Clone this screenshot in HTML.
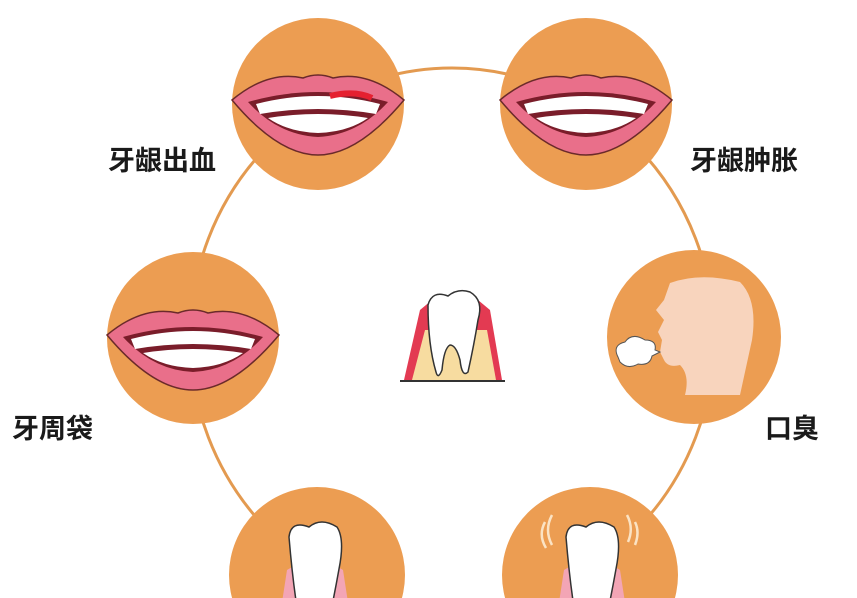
<!DOCTYPE html>
<html><head><meta charset="utf-8"><style>
html,body{margin:0;padding:0;background:#fff;width:857px;height:598px;overflow:hidden;}
svg{display:block}
text{font-family:"Liberation Sans","Noto Sans CJK SC",sans-serif;font-weight:bold;fill:#1a1a1a;font-size:27px}
</style></head><body>
<svg width="857" height="598" viewBox="0 0 857 598">
<defs>
<g id="lips">
<path d="M-86,0 Q-50,-30 -15,-22 Q0,-28 15,-22 Q50,-30 86,0 Q40,55 0,55 Q-40,55 -86,0Z" fill="#e96f8a" stroke="#6b2a2a" stroke-width="1.5"/>
<path d="M-70,2 Q0,-18 70,2 Q40,35 0,37 Q-40,35 -70,2Z" fill="#7a1d2a"/>
<path d="M-62,4 Q0,-12 62,4 L58,14 Q0,4 -58,14Z" fill="#fff"/>
<path d="M-50,18 Q0,10 50,18 Q30,32 0,33 Q-30,32 -50,18Z" fill="#fff"/>
</g>
<g id="bt">
<path d="M-38,60 L-28,-5 L-16,-12 L16,-12 L28,-5 L38,60Z" fill="#f3a5b5"/>
<path d="M-26,-38 Q-24,-55 -6,-48 Q6,-58 22,-48 Q30,-36 24,-6 Q19,22 14,45 Q10,55 7,45 Q5,28 0,28 Q-6,28 -9,47 Q-14,56 -16,45 Q-22,10 -26,-38Z" fill="#fff" stroke="#333" stroke-width="1.5"/>
</g>
</defs>
<ellipse cx="452" cy="338" rx="262" ry="270" fill="none" stroke="#e39a50" stroke-width="3"/>
<g fill="#ec9d52">
<circle cx="318" cy="104" r="86"/>
<circle cx="586" cy="104" r="86"/>
<circle cx="193" cy="338" r="86"/>
<circle cx="694" cy="337" r="87"/>
<circle cx="317" cy="575" r="88"/>
<circle cx="590" cy="575" r="88"/>
</g>
<use href="#lips" x="318" y="100"/>
<use href="#lips" x="586" y="100"/>
<use href="#lips" x="193" y="335"/>
<path d="M330,96 Q355,90 372,98" stroke="#e52030" stroke-width="6" fill="none"/>
<path d="M670,283 Q700,272 740,282 Q758,300 752,340 Q745,372 740,395 L685,395 Q690,375 680,365 Q668,368 664,360 L660,352 L662,340 L658,332 L664,320 L656,310 L664,300 Z" fill="#f8d4bd"/>
<path d="M618,357 Q612,345 625,342 Q632,332 645,340 Q657,340 655,350 L660,352 L652,356 Q650,366 638,364 Q628,370 620,362Z" fill="#fff" stroke="#555" stroke-width="1"/>
<path d="M404,380 L420,310 L432,300 L478,300 L490,310 L502,380Z" fill="#e33a52"/>
<path d="M412,380 L425,330 L487,330 L496,380Z" fill="#f7dca0"/>
<path d="M428,305 Q432,290 448,296 Q458,288 470,292 Q484,300 478,320 Q474,345 468,372 Q462,378 460,360 Q456,345 450,345 Q444,348 442,370 Q438,380 436,372 Q428,345 428,305Z" fill="#fff" stroke="#333" stroke-width="1.5"/>
<line x1="400" y1="381" x2="505" y2="381" stroke="#333" stroke-width="2"/>
<use href="#bt" x="315" y="575"/>
<use href="#bt" x="592" y="575"/>
<path d="M545,522 Q538,535 546,548 M552,515 Q544,530 552,545 M627,515 Q634,528 628,542 M635,522 Q640,532 635,545" stroke="#fbe3c4" stroke-width="2.5" fill="none"/>
<text x="108" y="170">牙龈出血</text>
<text x="690" y="170">牙龈肿胀</text>
<text x="12" y="438">牙周袋</text>
<text x="765" y="438">口臭</text>
</svg>
</body></html>
